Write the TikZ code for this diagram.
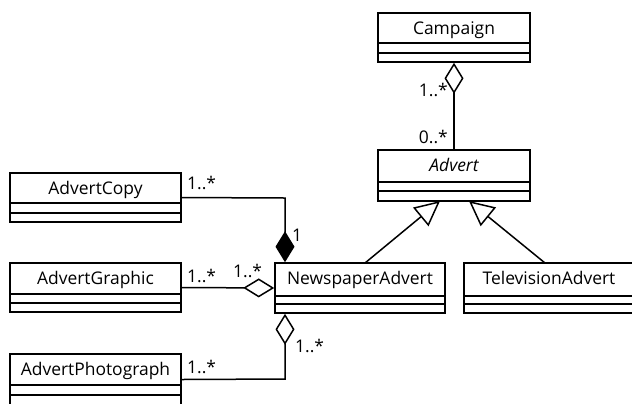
\documentclass[tikz,border=0pt]{standalone}
\usepackage{fontspec}
\setmainfont{Open Sans}
\usetikzlibrary{arrows.meta,fit}

\tikzset{
  classframe/.style={draw, line width=1.6bp, inner sep=0pt},
  classname/.style={anchor=base, inner sep=0pt, font=\fontsize{17.5}{17.5}\selectfont},
  mult/.style={inner sep=0pt, font=\fontsize{17.5}{17.5}\selectfont},
  link/.style={line width=1.5bp},
  aggregation/.style={link, -{Diamond[open,length=31bp,width=19bp]}},
  composition/.style={link, -{Diamond[length=31bp,width=19bp]}},
  generalization/.style={link, -{Triangle[open,length=25bp,width=24bp]}},
}

% class box: node name, left, top, right, name-compartment bottom, second line, bottom, text
\newcommand\umlclass[8]{%
  \node[classframe, fit={(#2,#3) (#4,#7)}] (#1) {};
  \node[classname] (#1-name) at ({(#2+#4)/2}, {#3+21}) {#8};
  \draw[line width=1.6bp] (#2,#5) -- (#4,#5) (#2,#6) -- (#4,#6);
}

\begin{document}
\begin{tikzpicture}[x=1bp, y=-1bp]
  \useasboundingbox (0,0) rectangle (632,403);
  \clip (0,0) rectangle (632,403);

  \umlclass{campaign}{378}{13}{530}{43}{53}{62}{Campaign}
  \umlclass{advert}{378}{150}{530}{182}{191}{201}{\itshape Advert}
  \umlclass{copy}{10}{173}{181}{203}{213}{222}{AdvertCopy}
  \umlclass{graphic}{10}{263}{181}{294}{303}{312}{AdvertGraphic}
  \umlclass{news}{275}{263}{445}{296}{304}{313}{NewspaperAdvert}
  \umlclass{tv}{464}{263}{634}{296}{304}{313}{TelevisionAdvert}
  \umlclass{photo}{10}{354}{181}{385}{395}{405}{AdvertPhotograph}

  % Campaign aggregates Adverts
  \draw[aggregation] (advert.north) -- (campaign.south);
  \node[mult, anchor=base east] (m1) at (448,96) {1..*};
  \node[mult, anchor=base east] (m2) at (448,143) {0..*};

  % Advert specialisations
  \coordinate (newsTop) at (365,263);
  \coordinate (tvTop) at (545,263);
  \coordinate (genL) at (440,201);
  \coordinate (genR) at (469,201);
  \draw[generalization] (newsTop) -- (genL);
  \draw[generalization] (tvTop) -- (genR);

  % NewspaperAdvert parts
  \coordinate (copyBend) at (285,198);
  \draw[composition] (copy.east) -- (copyBend) -- (copyBend |- news.north);
  \node[mult, anchor=base west] (m3) at (187,189) {1..*};
  \node[mult, anchor=base west] (m4) at (292,241) {1};

  \draw[aggregation] (graphic.east) -- (news.west);
  \node[mult, anchor=base west] (m5) at (187,282) {1..*};
  \node[mult, anchor=base west] (m6) at (233,277) {1..*};

  \coordinate (photoBend) at (285,379);
  \draw[aggregation] (photo.east) -- (photoBend) -- (photoBend |- news.south);
  \node[mult, anchor=base west] (m7) at (187,373) {1..*};
  \node[mult, anchor=base west] (m8) at (295,352) {1..*};
\end{tikzpicture}
\end{document}
